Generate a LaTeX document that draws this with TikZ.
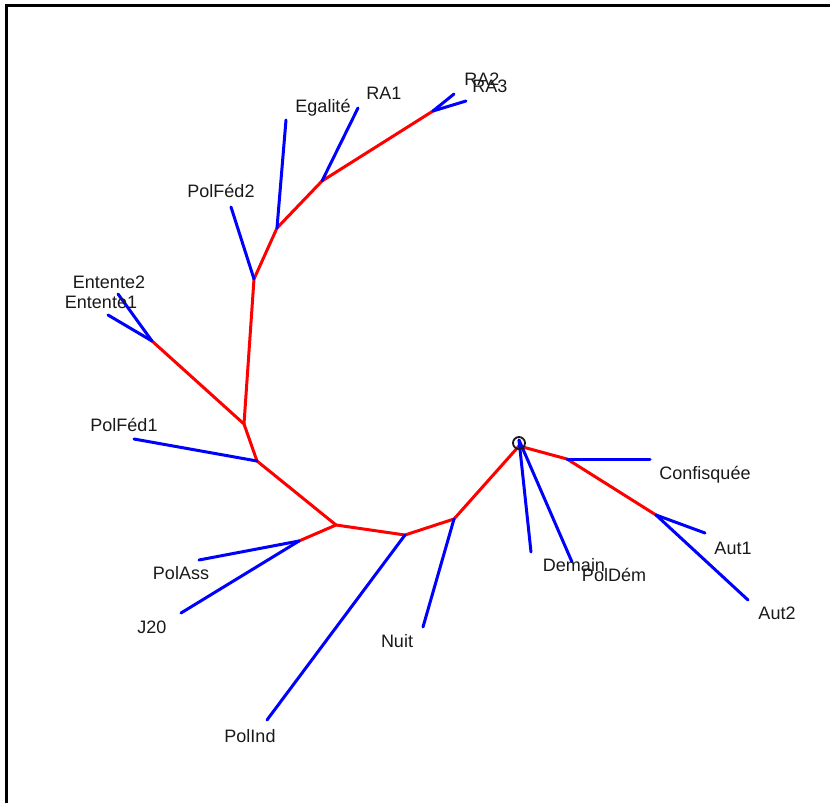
\documentclass[tikz,border=0pt]{standalone}
\usepackage{fontspec}
\setmainfont{Liberation Sans}
\usetikzlibrary{positioning}
\definecolor{inner}{RGB}{255,0,0}
\definecolor{leaf}{RGB}{0,0,255}
\definecolor{ink}{RGB}{25,25,25}

\begin{document}
\begin{tikzpicture}[
  x=1pt, y=-1pt,
  every node/.style={font=\fontsize{18}{21}\selectfont, inner sep=0pt, text=ink},
  lbl/.style={anchor=base},
  branch/.style={draw=inner, line width=3pt, line cap=round, line join=round},
  twig/.style={draw=leaf, line width=3pt, line cap=round}
]
\useasboundingbox (0,0) rectangle (830,803);

% frame
\draw[line width=3pt] (6.5,803) -- (6.5,5.5) -- (830,5.5);

% inner nodes
\coordinate (root) at (519,446);
\coordinate (nuitN) at (454,519);
\coordinate (indN) at (405,535);
\coordinate (midN) at (336,525);
\coordinate (assN) at (299,541);
\coordinate (fedA) at (257,461);
\coordinate (fork) at (244,424);
\coordinate (entN) at (152,341);
\coordinate (fedB) at (254,279);
\coordinate (egaN) at (277,228);
\coordinate (raN) at (322,181);
\coordinate (raTop) at (433,111);
\coordinate (conN) at (567,459);
\coordinate (autN) at (656,515);

% tips
\coordinate (tNuit) at (423,627);
\coordinate (tInd) at (267,720);
\coordinate (tAss) at (199,560);
\coordinate (tJ) at (181,613);
\coordinate (tFedA) at (134,439);
\coordinate (tEntA) at (108,315);
\coordinate (tEntB) at (118,294);
\coordinate (tFedB) at (231,207);
\coordinate (tEga) at (286,120);
\coordinate (tRA1) at (358,108);
\coordinate (tRA2) at (454,94);
\coordinate (tRA3) at (466,101);
\coordinate (tDem) at (531,552);
\coordinate (tDemP) at (572,562);
\coordinate (tCon) at (650,459);
\coordinate (tAut1) at (705,533);
\coordinate (tAut2) at (748,600);

% red skeleton
\draw[branch] (root) -- (nuitN) -- (indN) -- (midN) -- (assN);
\draw[branch] (midN) -- (fedA) -- (fork) -- (entN);
\draw[branch] (fork) -- (fedB) -- (egaN) -- (raN) -- (raTop);
\draw[branch] (root) -- (conN) -- (autN);

% blue leaves
\draw[twig] (nuitN) -- (tNuit);
\draw[twig] (indN) -- (tInd);
\draw[twig] (assN) -- (tAss);
\draw[twig] (assN) -- (tJ);
\draw[twig] (fedA) -- (tFedA);
\draw[twig] (entN) -- (tEntA);
\draw[twig] (entN) -- (tEntB);
\draw[twig] (fedB) -- (tFedB);
\draw[twig] (egaN) -- (tEga);
\draw[twig] (raN) -- (tRA1);
\draw[twig] (raTop) -- (tRA2);
\draw[twig] (raTop) -- (tRA3);
\draw[twig] ([yshift=6pt]root) -- (tDem);
\draw[twig] ([yshift=6pt]root) -- (tDemP);
\draw[twig] (conN) -- (tCon);
\draw[twig] (autN) -- (tAut1);
\draw[twig] (autN) -- (tAut2);

% root mark
\node[draw=ink, circle, line width=1.8pt, minimum size=12pt] (origin) at (519,443) {};

% labels
\node[lbl] (RA2) at (482,85) {RA2};
\node[lbl] (RA3) at (490,92) {RA3};
\node[lbl] (RA1) at (384,99) {RA1};
\node[lbl] (Ega) at (323,112) {Egalité};
\node[lbl] (PolFed2) at (221,197) {PolFéd2};
\node[lbl] (Ent2) at (109,288) {Entente2};
\node[lbl] (Ent1) at (101,308) {Entente1};
\node[lbl] (PolFed1) at (124,431) {PolFéd1};
\node[lbl] (PolAss) at (181,579) {PolAss};
\node[lbl] (J20) at (152,633) {J20};
\node[lbl] (Nuit) at (397,647) {Nuit};
\node[lbl] (PolInd) at (250,742) {PolInd};
\node[lbl] (Demain) at (574,571) {Demain};
\node[lbl] (PolDem) at (614,581) {PolDém};
\node[lbl] (Conf) at (705,479) {Confisquée};
\node[lbl] (Aut1) at (733,554) {Aut1};
\node[lbl] (Aut2) at (777,619) {Aut2};

\end{tikzpicture}
\end{document}
